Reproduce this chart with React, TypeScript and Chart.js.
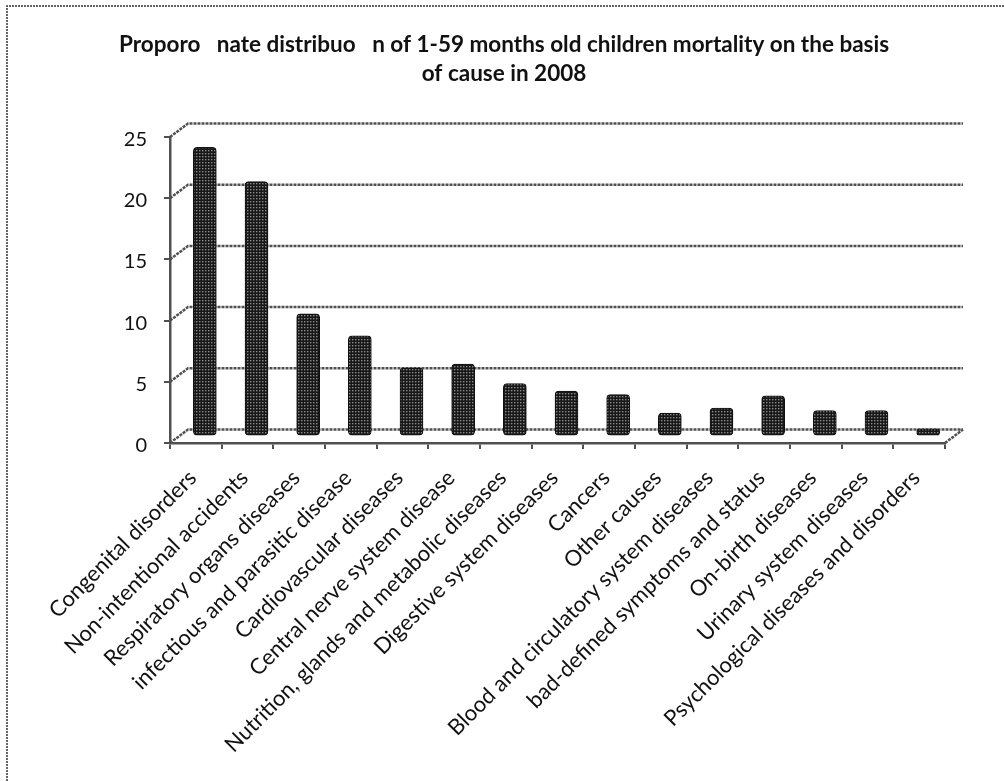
import React, { useEffect, useRef } from "react";
import { Chart, registerables } from "chart.js";

Chart.register(...registerables);

const categories = [
  "Congenital disorders",
  "Non-intentional accidents",
  "Respiratory organs diseases",
  "infectious and parasitic disease",
  "Cardiovascular diseases",
  "Central nerve system disease",
  "Nutrition, glands and metabolic diseases",
  "Digestive system diseases",
  "Cancers",
  "Other causes",
  "Blood and circulatory system diseases",
  "bad-defined symptoms and status",
  "On-birth diseases",
  "Urinary system diseases",
  "Psychological diseases and disorders",
];
const mortality = [23.6, 20.8, 10, 8.2, 5.6, 5.9, 4.3, 3.7, 3.4, 1.9, 2.3, 3.3, 2.1, 2.1, 0.6];
const titleLines = [
  "Proporo   nate distribuo   n of 1-59 months old children mortality on the basis",
  "of cause in 2008",
];
const yTicks = [0, 5, 10, 15, 20, 25];

const DEPTH_X = 18;
const DEPTH_Y = -13.5;
const LINE = "#505050";
const FONT = "Lato";

function makePattern(): CanvasPattern | string {
  const c = document.createElement("canvas");
  c.width = 3;
  c.height = 3;
  const g = c.getContext("2d");
  if (!g) return "#222";
  g.fillStyle = "#181818";
  g.fillRect(0, 0, 3, 3);
  g.fillStyle = "#b0b0b0";
  g.fillRect(1, 1, 1, 1);
  g.fillStyle = "#5a5a5a";
  g.fillRect(2, 1, 1, 1);
  const p = g.createPattern(c, "repeat");
  return p || "#222";
}

const wallsPlugin = {
  id: "walls",
  beforeDraw(chart: any) {
    const { ctx, width, height } = chart;
    ctx.save();
    ctx.strokeStyle = "#333";
    ctx.lineWidth = 1.5;
    ctx.setLineDash([2, 1]);
    ctx.beginPath();
    ctx.moveTo(width, 6);
    ctx.lineTo(7, 6);
    ctx.lineTo(7, height);
    ctx.stroke();
    ctx.restore();
  },
  beforeDatasetsDraw(chart: any) {
    const { ctx, chartArea, scales } = chart;
    const { left, right, bottom } = chartArea;
    ctx.save();
    ctx.strokeStyle = LINE;
    ctx.lineWidth = 2.5;
    ctx.setLineDash([3, 1]);
    for (const v of yTicks) {
      const y = scales.y.getPixelForValue(v);
      ctx.beginPath();
      ctx.moveTo(left, y);
      ctx.lineTo(left + DEPTH_X, y + DEPTH_Y);
      ctx.lineTo(right + DEPTH_X, y + DEPTH_Y);
      ctx.stroke();
    }
    ctx.beginPath();
    ctx.moveTo(right, bottom);
    ctx.lineTo(right + DEPTH_X, bottom + DEPTH_Y);
    ctx.stroke();
    ctx.restore();
    ctx.save();
    ctx.translate(DEPTH_X / 2, DEPTH_Y / 2);
  },
  afterDatasetsDraw(chart: any) {
    chart.ctx.restore();
  },
};

export default function App() {
  const ref = useRef<HTMLCanvasElement>(null);
  useEffect(() => {
    if (!ref.current) return;
    const chart = new Chart(ref.current, {
      type: "bar",
      data: {
        labels: categories,
        datasets: [
          {
            data: mortality,
            backgroundColor: makePattern() as any,
            borderColor: "#111",
            borderWidth: 1,
            borderSkipped: false,
            borderRadius: 4,
            barThickness: 23,
            clip: false as any,
          },
        ],
      },
      options: {
        responsive: false,
        animation: false,
        devicePixelRatio: 1,
        layout: { padding: { top: 0, left: 63, right: 59, bottom: 0 } },
        plugins: {
          legend: { display: false },
          tooltip: { enabled: false },
          title: {
            display: true,
            text: titleLines,
            color: "#111",
            font: { family: FONT, size: 22.5, weight: "bold", lineHeight: 1.3 },
            padding: { top: 30, bottom: 48.5 },
          },
        },
        scales: {
          y: {
            min: 0,
            max: 25,
            ticks: { stepSize: 5, color: "#111", font: { family: FONT, size: 20 }, padding: 17, labelOffset: 2.5 },
            grid: { drawOnChartArea: false, drawTicks: true, tickLength: 6, color: LINE, lineWidth: 2 },
            border: { color: LINE, width: 2.5, dash: [3, 1] },
            afterFit(s: any) {
              s.width = 107;
            },
          },
          x: {
            ticks: {
              color: "#111",
              font: { family: FONT, size: 22 },
              minRotation: 45,
              maxRotation: 45,
              autoSkip: false,
              padding: 16,
              labelOffset: -3,
            },
            grid: { drawOnChartArea: false, drawTicks: true, tickLength: 6, color: LINE, lineWidth: 2, offset: true },
            border: { color: LINE, width: 2.5, dash: [3, 1] },
            afterFit(s: any) {
              s.height = 338;
            },
          },
        },
      },
      plugins: [wallsPlugin],
    } as any);
    return () => chart.destroy();
  }, []);
  return (
    <div style={{ position: "absolute", left: 0, top: 0, width: 1004, height: 781, background: "#fff" }}>
      <canvas ref={ref} width={1004} height={781} style={{ display: "block" }} />
    </div>
  );
}
